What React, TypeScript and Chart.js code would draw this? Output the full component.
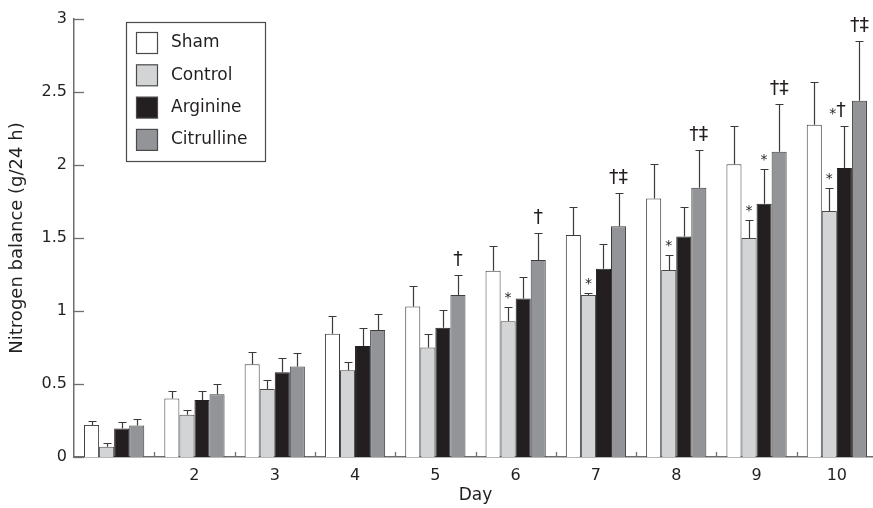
import { useEffect, useRef } from "react";
import { Chart, registerables } from "chart.js";

Chart.register(...registerables);

// ---- data ----
const days = ["1", "2", "3", "4", "5", "6", "7", "8", "9", "10"];
const dayTickLabels = ["", "2", "3", "4", "5", "6", "7", "8", "9", "10"];
const seriesNames = ["Sham", "Control", "Arginine", "Citrulline"];

const sham = [0.22, 0.40, 0.635, 0.845, 1.03, 1.275, 1.52, 1.77, 2.005, 2.275];
const shamErr = [0.03, 0.05, 0.085, 0.12, 0.14, 0.17, 0.195, 0.24, 0.26, 0.295];
const control = [0.07, 0.29, 0.465, 0.595, 0.75, 0.93, 1.11, 1.28, 1.5, 1.685];
const controlErr = [0.025, 0.035, 0.06, 0.055, 0.09, 0.1, 0.01, 0.105, 0.125, 0.155];
const arginine = [0.195, 0.39, 0.58, 0.76, 0.885, 1.085, 1.29, 1.51, 1.735, 1.98];
const arginineErr = [0.045, 0.065, 0.095, 0.125, 0.12, 0.145, 0.17, 0.2, 0.235, 0.29];
const citrulline = [0.215, 0.43, 0.62, 0.87, 1.11, 1.35, 1.58, 1.845, 2.09, 2.44];
const citrullineErr = [0.045, 0.07, 0.095, 0.11, 0.14, 0.185, 0.225, 0.255, 0.325, 0.41];

const shamMarks = ["", "", "", "", "", "", "", "", "", ""];
const controlMarks = ["", "", "", "", "", "*", "*", "*", "*", "*"];
const arginineMarks = ["", "", "", "", "", "", "", "", "*", "*†"];
const citrullineMarks = ["", "", "", "", "†", "†", "†‡", "†‡", "†‡", "†‡"];

const yMin = 0;
const yMax = 3;
const yStep = 0.5;

// ---- styles ----
const FONT = "'DejaVu Sans', sans-serif";
const TEXT = "#231f20";
const AXIS = "#6d6e70";
const ERR = "#3a3a3a";
const fills = ["#ffffff", "#d3d4d6", "#231f20", "#929497"];
const borders = ["#3c3c3c", "#4a4a4a", "#231f20", "#3c3c3c"];

const overlay = {
  id: "overlay",
  afterDatasetsDraw(chart: any) {
    const ctx = chart.ctx as CanvasRenderingContext2D;
    const ys = chart.scales.y;
    const xs = chart.scales.x;
    const area = chart.chartArea;
    ctx.save();

    // inward y ticks
    ctx.strokeStyle = AXIS;
    ctx.lineWidth = 1.3;
    ys.ticks.forEach((t: any) => {
      const py = Math.round(ys.getPixelForValue(t.value)) + 0.5;
      ctx.beginPath();
      ctx.moveTo(area.left, py);
      ctx.lineTo(area.left + 10, py);
      ctx.stroke();
    });
    // category separators on x axis
    for (let i = 1; i < days.length; i++) {
      const px = Math.round((xs.getPixelForValue(i - 1) + xs.getPixelForValue(i)) / 2) + 0.5;
      ctx.beginPath();
      ctx.moveTo(px, area.bottom);
      ctx.lineTo(px, area.bottom - 5);
      ctx.stroke();
    }

    // error bars and significance marks
    chart.data.datasets.forEach((ds: any, di: number) => {
      const meta = chart.getDatasetMeta(di);
      meta.data.forEach((bar: any, i: number) => {
        const v = ds.data[i];
        const e = ds.errors[i];
        const top = ys.getPixelForValue(v);
        const et = Math.round(ys.getPixelForValue(v + e)) + 0.5;
        const bx = Math.round(bar.x) + 0.5;
        ctx.strokeStyle = ERR;
        ctx.lineWidth = 1.2;
        ctx.beginPath();
        ctx.moveTo(bx, top);
        ctx.lineTo(bx, et);
        ctx.moveTo(bx - 4, et);
        ctx.lineTo(bx + 4, et);
        ctx.stroke();

        const m: string = ds.marks[i];
        if (m) {
          ctx.fillStyle = TEXT;
          ctx.textBaseline = "alphabetic";
          const starFont = `14px ${FONT}`;
          const dagFont = `19px ${FONT}`;
          const parts = m.split("");
          const widths = parts.map((c) => {
            ctx.font = c === "*" ? starFont : dagFont;
            return ctx.measureText(c).width;
          });
          const total = widths.reduce((a, b) => a + b, 0);
          const mixed = m.includes("*") && m.length > 1;
          let cx = bar.x - total / 2 + (mixed ? -7 : 0);
          parts.forEach((c, k) => {
            ctx.textAlign = "left";
            if (c === "*") {
              ctx.font = starFont;
              ctx.fillText(c, cx, et - (mixed ? 9 : 6));
            } else {
              ctx.font = dagFont;
              ctx.fillText(c, cx, et - 11);
            }
            cx += widths[k];
          });
        }
      });
    });
    ctx.restore();
  },
  afterDraw(chart: any) {
    const ctx = chart.ctx as CanvasRenderingContext2D;
    ctx.save();
    // legend box
    ctx.strokeStyle = "#4a4a4a";
    ctx.lineWidth = 1.2;
    ctx.strokeRect(126.5, 22.5, 139, 139);
    chart.data.datasets.forEach((ds: any, i: number) => {
      const top = 32.5 + i * 32.3;
      ctx.fillStyle = ds.backgroundColor;
      ctx.fillRect(136.5, top, 21, 21);
      ctx.strokeStyle = "#4a4a4a";
      ctx.lineWidth = 1.2;
      ctx.strokeRect(136.5, top, 21, 21);
      ctx.fillStyle = TEXT;
      ctx.font = `17px ${FONT}`;
      ctx.textAlign = "left";
      ctx.textBaseline = "middle";
      ctx.fillText(ds.label, 171, top + 10.5);
    });
    ctx.restore();
  },
};

export default function App() {
  const ref = useRef<HTMLCanvasElement | null>(null);

  useEffect(() => {
    if (!ref.current) return;
    const values = [sham, control, arginine, citrulline];
    const errs = [shamErr, controlErr, arginineErr, citrullineErr];
    const marks = [shamMarks, controlMarks, arginineMarks, citrullineMarks];
    const chart = new Chart(ref.current, {
      type: "bar",
      data: {
        labels: days,
        datasets: seriesNames.map((name, i) => ({
          label: name,
          data: values[i],
          errors: errs[i],
          marks: marks[i],
          backgroundColor: fills[i],
          borderColor: borders[i],
          borderWidth: 1,
          barPercentage: 1,
          categoryPercentage: 0.75,
        })) as any,
      },
      options: {
        animation: false,
        responsive: false,
        layout: { padding: { top: 19, left: 0, right: 0, bottom: 0 } },
        plugins: {
          legend: { display: false },
          tooltip: { enabled: false },
        },
        scales: {
          x: {
            type: "category",
            offset: true,
            z: 1,
            grid: { display: false, drawTicks: false },
            border: { display: true, color: AXIS, width: 1.5 },
            ticks: {
              color: TEXT,
              font: { family: FONT, size: 16 },
              padding: 9,
              maxRotation: 0,
              autoSkip: false,
              callback: (_v: any, i: number) => dayTickLabels[i],
            },
            title: {
              display: true,
              text: "Day",
              color: TEXT,
              font: { family: FONT, size: 17 },
              padding: { top: 0, bottom: 2 },
            },
            afterFit: (s: any) => {
              s.height = 51;
            },
          },
          y: {
            min: yMin,
            max: yMax,
            z: 1,
            grid: { display: false, drawTicks: false },
            border: { display: true, color: AXIS, width: 1.5 },
            ticks: {
              stepSize: yStep,
              color: TEXT,
              font: { family: FONT, size: 16 },
              padding: 7,
              callback: (v: any) => String(v),
            },
            title: {
              display: true,
              text: "Nitrogen balance (g/24 h)",
              color: TEXT,
              font: { family: FONT, size: 18 },
              padding: { top: 7, bottom: 0 },
            },
            afterFit: (s: any) => {
              s.width = 74;
            },
          },
        },
      },
      plugins: [overlay],
    });
    return () => chart.destroy();
  }, []);

  return (
    <div
      style={{
        position: "absolute",
        left: 0,
        top: 0,
        width: 873,
        height: 508,
        overflow: "hidden",
        background: "#ffffff",
      }}
    >
      <canvas ref={ref} width={877} height={508} style={{ display: "block" }} />
    </div>
  );
}
